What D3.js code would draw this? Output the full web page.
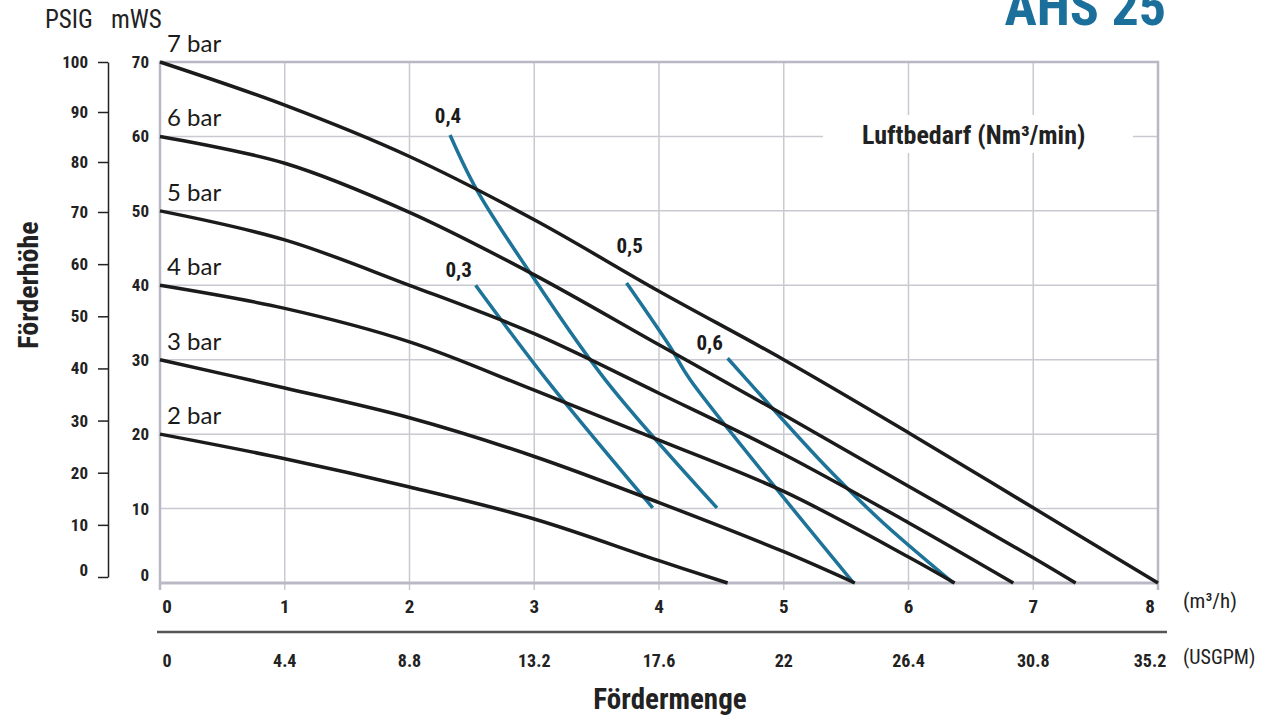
<!DOCTYPE html>
<html>
<head>
<meta charset="utf-8">
<script src="https://cdn.jsdelivr.net/npm/d3@7"></script>
<style>
  body { margin: 0; background: #fff; }
  svg { display: block; }
  .cond { font-family: "Liberation Sans Narrow", "Roboto Condensed", "Roboto", sans-serif; font-stretch: condensed; }
  .reg { font-family: "Lato", "Open Sans", sans-serif; }
</style>
</head>
<body>
<svg id="chart" width="1271" height="720"></svg>
<script>
// ---- data ----
var flowTicks = [0, 1, 2, 3, 4, 5, 6, 7, 8];                       // m3/h
var usgpmLabels = ["0", "4.4", "8.8", "13.2", "17.6", "22", "26.4", "30.8", "35.2"];
var mwsTicks = [0, 10, 20, 30, 40, 50, 60, 70];
var psigTicks = [0, 10, 20, 30, 40, 50, 60, 70, 80, 90, 100];

// pump curves per air pressure: [flow m3/h, head mWS]
var bar2 = [[0, 20], [1, 16.7], [2, 12.9], [3, 8.6], [4, 3.0], [4.55, 0]];
var bar3 = [[0, 30], [1, 26.2], [2, 22.2], [3, 17], [4, 10.8], [5, 4.2], [5.57, 0]];
var bar4 = [[0, 40], [1, 36.9], [2, 32.4], [3, 25.9], [4, 19.2], [5, 12.3], [6, 3.5], [6.37, 0]];
var bar5 = [[0, 50], [1, 46.1], [2, 40], [3, 33.5], [4, 25.5], [5, 17.3], [6, 8.1], [6.84, 0]];
var bar6 = [[0, 60], [1, 56.4], [2, 49.8], [3, 41.4], [4, 32], [5, 22.6], [6, 13], [7, 3.4], [7.34, 0]];
var bar7 = [[0, 70], [1, 64.2], [2, 57.3], [3, 48.8], [4, 39.2], [5, 30], [6, 20.2], [7, 10.1], [8, 0]];
var barNames = ["2 bar", "3 bar", "4 bar", "5 bar", "6 bar", "7 bar"];

// air consumption lines (Nm3/min)
var air03 = [[2.53, 40], [3.10, 27.3], [3.95, 10.1]];
var air04 = [[2.325, 60.2], [2.54, 52.8], [2.99, 41.1], [3.57, 27.3], [4.465, 10.1]];
var air05 = [[3.74, 40.3], [4.09, 31.7], [4.25, 27.3], [5.56, 0]];
var air06 = [[4.55, 30.2], [4.705, 27.3], [5.29, 16.5], [5.77, 8.5], [6.36, 0]];
var airNames = ["0,3", "0,4", "0,5", "0,6"];

// ---- layout ----
var svg = d3.select("#chart");
var pL = 160, pR = 1158, pT = 62, pB = 583;
var black = "#1b1b1b", blue = "#1d7398", grid = "#c9c9d2", frame = "#b9b9c6";

var x = d3.scaleLinear().domain([0, 8]).range([pL, pR]);
var y = d3.scaleLinear().domain([0, 70]).range([pB, pT]);
// psig scale is drawn slightly off-linear in the original sheet
var psi = d3.scaleLinear().domain([0, 70, 100]).range([577, 212, pT]);

// grid
var g = svg.append("g");
g.selectAll("line.v").data(flowTicks.slice(1, -1)).enter().append("line")
  .attr("x1", function(d){ return x(d); }).attr("x2", function(d){ return x(d); })
  .attr("y1", pT).attr("y2", pB + 7)
  .attr("stroke", grid).attr("stroke-width", 1.5);
g.selectAll("line.h").data(mwsTicks.slice(1, -1)).enter().append("line")
  .attr("x1", pL).attr("x2", pR)
  .attr("y1", function(d){ return y(d); }).attr("y2", function(d){ return y(d); })
  .attr("stroke", grid).attr("stroke-width", 1.5);
// frame
g.append("path")
  .attr("d", "M" + pL + "," + (pB + 7) + "V" + pT + "H" + pR + "V" + (pB + 7))
  .attr("fill", "none").attr("stroke", frame).attr("stroke-width", 2.5);
g.append("line").attr("x1", pL).attr("x2", pR).attr("y1", pB).attr("y2", pB)
  .attr("stroke", frame).attr("stroke-width", 3);

// white patch behind the legend title
var lbl = svg.append("g");
lbl.append("rect").attr("x", 823).attr("y", 115).attr("width", 310).attr("height", 38).attr("fill", "#fff");
lbl.append("text").attr("class", "cond")
  .attr("x", 862).attr("y", 144)
  .attr("font-size", 26).attr("font-weight", "bold").attr("fill", "#222")
  .text("Luftbedarf (Nm³/min)");

// curves
var line = d3.line()
  .x(function(d){ return x(d[0]); })
  .y(function(d){ return y(d[1]); })
  .curve(d3.curveCatmullRom.alpha(0.5));

var barCurves = [bar2, bar3, bar4, bar5, bar6, bar7];
var airCurves = [air03, air04, air05, air06];

svg.append("g").selectAll("path").data(airCurves).enter().append("path")
  .attr("d", line).attr("fill", "none")
  .attr("stroke", blue).attr("stroke-width", 3.5);

svg.append("g").selectAll("path").data(barCurves).enter().append("path")
  .attr("d", line).attr("fill", "none")
  .attr("stroke", black).attr("stroke-width", 3.5);

// bar labels above the start of each curve
svg.append("g").selectAll("text").data(barCurves).enter().append("text")
  .attr("class", "reg")
  .attr("x", pL + 7)
  .attr("y", function(d){ return y(d[0][1]) - 10; })
  .attr("font-size", 24).attr("fill", "#1a1a1a")
  .text(function(d, i){ return barNames[i]; });

// air labels near the top of each blue line
var airDx = [-17, -2, 3, -18], airDy = [-8, -12, -30, -8];
svg.append("g").selectAll("text").data(airCurves).enter().append("text")
  .attr("class", "cond")
  .attr("x", function(d, i){ return x(d[0][0]) + airDx[i]; })
  .attr("y", function(d, i){ return y(d[0][1]) + airDy[i]; })
  .attr("text-anchor", "middle")
  .attr("font-size", 21).attr("font-weight", "bold").attr("fill", "#1a1a1a")
  .text(function(d, i){ return airNames[i]; });

// mWS labels
svg.append("g").selectAll("text").data(mwsTicks).enter().append("text")
  .attr("class", "cond")
  .attr("x", 149)
  .attr("y", function(d){ return y(d) + (d === 0 ? -8 : 0); })
  .attr("dy", "0.35em")
  .attr("text-anchor", "end")
  .attr("font-size", 17).attr("font-weight", "bold").attr("fill", "#222")
  .text(function(d){ return d; });

// PSIG axis
var psiAxis = d3.axisLeft(psi).tickValues(psigTicks).tickSize(10).tickSizeOuter(0).tickPadding(10);
var pa = svg.append("g").attr("transform", "translate(108,0)").call(psiAxis);
pa.select(".domain").attr("stroke", "#222").attr("stroke-width", 1.5);
pa.selectAll(".tick line").attr("stroke", "#222").attr("stroke-width", 1.5);
pa.selectAll(".tick text").attr("class", "cond")
  .attr("font-size", 17).attr("font-weight", "bold").attr("fill", "#222")
  .attr("dy", function(d){ return d === 0 ? "-0.1em" : "0.32em"; });

// flow labels, m3/h and USGPM
var fx = function(d, i){ return x(d) + (i === 0 ? 7 : i === flowTicks.length - 1 ? -8 : 0); };
svg.append("g").selectAll("text").data(flowTicks).enter().append("text")
  .attr("class", "cond")
  .attr("x", fx).attr("y", 613)
  .attr("text-anchor", "middle")
  .attr("font-size", 19).attr("font-weight", "bold").attr("fill", "#222")
  .text(function(d){ return d; });
svg.append("line").attr("x1", x(0) - 3).attr("x2", x(8) + 9).attr("y1", 632).attr("y2", 632)
  .attr("stroke", "#555").attr("stroke-width", 2.5);
svg.append("g").selectAll("text").data(flowTicks).enter().append("text")
  .attr("class", "cond")
  .attr("x", fx).attr("y", 667)
  .attr("text-anchor", "middle")
  .attr("font-size", 18).attr("font-weight", "bold").attr("fill", "#222")
  .text(function(d, i){ return usgpmLabels[i]; });

svg.append("text").attr("class", "cond").attr("x", 1183).attr("y", 608)
  .attr("font-size", 21).attr("fill", "#222").text("(m³/h)");
svg.append("text").attr("class", "cond").attr("x", 1183).attr("y", 664)
  .attr("font-size", 20).attr("fill", "#222").text("(USGPM)");

// axis titles
svg.append("text").attr("class", "cond").attr("x", 670).attr("y", 709)
  .attr("text-anchor", "middle").attr("font-size", 29).attr("font-weight", "bold").attr("fill", "#222")
  .text("Fördermenge");
svg.append("text").attr("class", "cond")
  .attr("transform", "translate(38,285) rotate(-90)")
  .attr("text-anchor", "middle").attr("font-size", 28).attr("font-weight", "bold").attr("fill", "#222")
  .text("Förderhöhe");
svg.append("text").attr("class", "cond").attr("x", 45).attr("y", 28)
  .attr("font-size", 25).attr("fill", "#222").text("PSIG");
svg.append("text").attr("class", "cond").attr("x", 111).attr("y", 28)
  .attr("font-size", 25).attr("fill", "#222").text("mWS");

// model name, cut at the top edge as in the sheet
svg.append("text").attr("class", "cond").attr("x", 1166).attr("y", 25)
  .attr("text-anchor", "end").attr("font-size", 54).attr("font-weight", "bold").attr("fill", "#1b6f9b")
  .text("AHS 25");
</script>
</body>
</html>
